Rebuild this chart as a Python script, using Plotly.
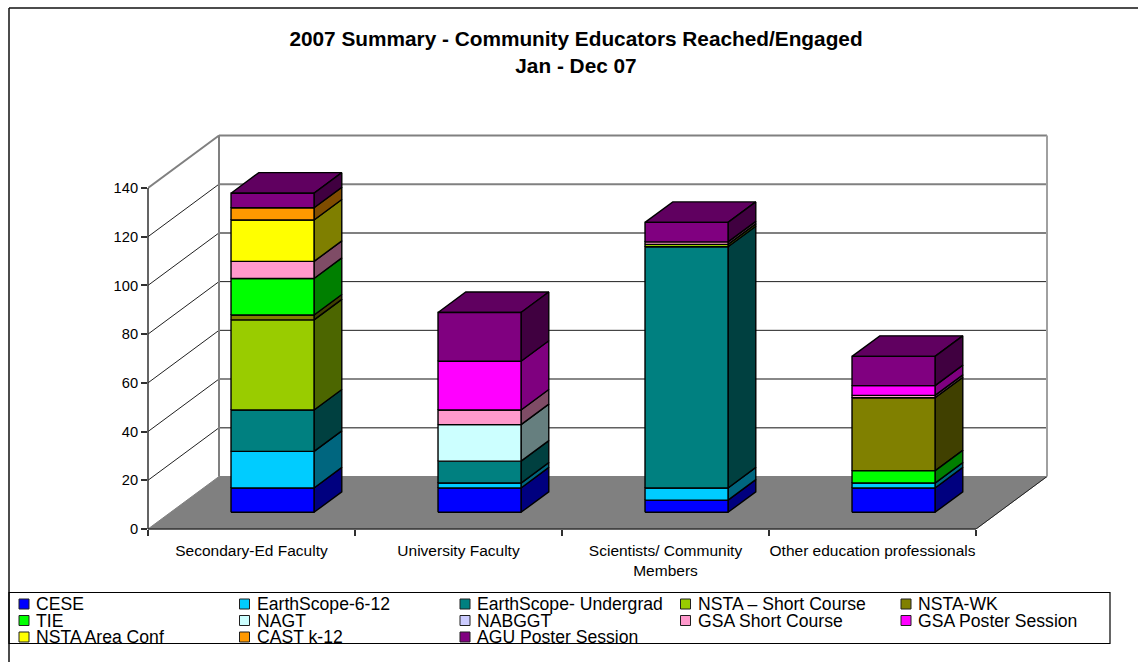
import plotly.graph_objects as go

# Chart data -------------------------------------------------------------
categories = ["Secondary-Ed Faculty", "University Faculty",
              "Scientists/ Community<br>Members", "Other education professionals"]
series_names = ["CESE", "EarthScope-6-12", "EarthScope- Undergrad", "NSTA – Short Course", "NSTA-WK",
                "TIE", "NAGT", "NABGGT", "GSA Short Course", "GSA Poster Session",
                "NSTA Area Conf", "CAST k-12", "AGU Poster Session"]
cese = [10, 10, 5, 10]
earthscope_612 = [15, 2, 5, 2]
earthscope_undergrad = [17, 9, 99, 0]
nsta_short_course = [37, 0, 1, 0]
nsta_wk = [2, 0, 0, 30]
tie = [15, 0, 0, 5]
nagt = [0, 15, 0, 0]
nabggt = [0, 0, 0, 0]
gsa_short_course = [7, 6, 1, 1]
gsa_poster = [0, 20, 0, 4]
nsta_area_conf = [17, 0, 0, 0]
cast_k12 = [5, 0, 0, 0]
agu_poster = [6, 20, 8, 12]
series_values = [cese, earthscope_612, earthscope_undergrad, nsta_short_course, nsta_wk, tie, nagt,
                 nabggt, gsa_short_course, gsa_poster, nsta_area_conf, cast_k12, agu_poster]
series_colors = ["#0000FF", "#00CCFF", "#008080", "#99CC00", "#808000", "#00FF00", "#CCFFFF",
                 "#CCCCFF", "#FF99CC", "#FF00FF", "#FFFF00", "#FF9900", "#800080"]
y_ticks = [0, 20, 40, 60, 80, 100, 120, 140]
grid_colors = ["#808080", "#606060", "#606060", "#202020", "#202020", "#808080", "#808080", "#808080"]
grid_widths = [2, 1.4, 1.4, 1, 1, 2, 2, 2]

# Stacking sequence per category; the last category stacks TIE below NSTA-WK
default_order = list(range(len(series_names)))
last_order = [0, 1, 2, 3, 5, 4, 6, 7, 8, 9, 10, 11, 12]
stack_orders = [default_order, default_order, default_order, last_order]

# Oblique projection, in axis units: the full depth of the floor
DEPTH_X = 71 / 207
DEPTH_Y = 52.5 / 2.436
BAR_INSET = 0.292
BAR_WIDTH = 0.401
BAR_NEAR = 0.318
BAR_FAR = 0.709

W, H = 1138, 662
L, R, T, B = 148, 1060, 125, 529
UNIT_X = 207
UNIT_Y = 2.436
X_MAX = (R - L) / UNIT_X
Y_MAX = (B - T) / UNIT_Y


def px(x):
    return (x - L) / (R - L)


def py(y):
    return (B - y) / (B - T)


def shade(hex_color, factor):
    r, g, b = (int(hex_color[i:i + 2], 16) for i in (1, 3, 5))
    return f"rgb({int(r * factor)},{int(g * factor)},{int(b * factor)})"


def project(x, value, depth):
    return x + depth * DEPTH_X, value + depth * DEPTH_Y


def polygon(points):
    xs, ys = zip(*[project(*p) for p in points])
    return list(xs) + [xs[0], None], list(ys) + [ys[0], None]


def add_poly(fig, xs, ys, fill, line="#000000", width=1.4):
    fig.add_trace(go.Scatter(x=xs, y=ys, mode="lines", fill="toself", fillcolor=fill,
                             line=dict(color=line, width=width), hoverinfo="skip",
                             showlegend=False))


def add_line(fig, xs, ys, color, width):
    fig.add_trace(go.Scatter(x=xs, y=ys, mode="lines", line=dict(color=color, width=width),
                             hoverinfo="skip", showlegend=False))


fig = go.Figure()
n = len(categories)
top = y_ticks[-1]

# Floor of the box
fx, fy = polygon([(0, 0, 0), (n, 0, 0), (n, 0, 1), (0, 0, 1)])
add_poly(fig, fx, fy, "#808080", "#808080", 1)
a, b = project(n, 0, 0), project(n, 0, 1)
add_line(fig, [a[0], b[0]], [a[1], b[1]], "#202020", 1)

# Gridlines across the side wall and the back wall
for tick, color, width in zip(y_ticks, grid_colors, grid_widths):
    if tick == 0:
        continue
    p0, p1, p2 = project(0, tick, 0), project(0, tick, 1), project(n, tick, 1)
    side_color = "#808080" if tick == top else "#202020"
    add_line(fig, [p0[0], p1[0]], [p0[1], p1[1]], side_color, width if tick == top else 1)
    add_line(fig, [p1[0], p2[0]], [p1[1], p2[1]], color, width)

# Wall edges
for x_edge, color in ((0, "#808080"), (n, "#A0A0A0")):
    a, b = project(x_edge, 0, 1), project(x_edge, top, 1)
    add_line(fig, [a[0], b[0]], [a[1], b[1]], color, 2)

# Stacked boxes: one trace per series and face
faces = {k: {"front": ([], []), "side": ([], []), "top": ([], [])} for k in range(len(series_names))}
for i, order in enumerate(stack_orders):
    base = 0
    present = [k for k in order if series_values[k][i] > 0]
    for k in present:
        v = series_values[k][i]
        x0, x1 = i + BAR_INSET, i + BAR_INSET + BAR_WIDTH
        y0, y1 = base, base + v
        polys = {
            "front": [(x0, y0, BAR_NEAR), (x1, y0, BAR_NEAR), (x1, y1, BAR_NEAR), (x0, y1, BAR_NEAR)],
            "side": [(x1, y0, BAR_NEAR), (x1, y0, BAR_FAR), (x1, y1, BAR_FAR), (x1, y1, BAR_NEAR)],
        }
        if k == present[-1]:
            polys["top"] = [(x0, y1, BAR_NEAR), (x1, y1, BAR_NEAR), (x1, y1, BAR_FAR), (x0, y1, BAR_FAR)]
        for face, pts in polys.items():
            xs, ys = polygon(pts)
            faces[k][face][0].extend(xs)
            faces[k][face][1].extend(ys)
        base = y1

for k, color in enumerate(series_colors):
    for face, factor in (("top", 0.75), ("side", 0.5), ("front", 1)):
        xs, ys = faces[k][face]
        if xs:
            add_poly(fig, xs, ys, shade(color, factor) if factor < 1 else color)

FONT = "Liberation Sans, Arial, sans-serif"
AXIS_COLOR = "#303030"

shapes = [
    # Outer frame and legend box
    dict(type="line", xref="paper", yref="paper", x0=px(9), x1=px(9), y0=py(8), y1=py(H),
         line=dict(color="#101010", width=1.5)),
    dict(type="line", xref="paper", yref="paper", x0=px(9), x1=px(W), y0=py(8), y1=py(8),
         line=dict(color="#101010", width=1.5)),
    dict(type="rect", xref="paper", yref="paper", x0=px(9), x1=px(1110), y0=py(592.5), y1=py(643.5),
         line=dict(color="#000000", width=1.2)),
    # Axis lines stop at the front plane of the box
    dict(type="line", xref="paper", yref="paper", x0=0, x1=n / X_MAX, y0=0, y1=0,
         line=dict(color=AXIS_COLOR, width=1.5)),
    dict(type="line", xref="paper", yref="paper", x0=0, x1=0, y0=0, y1=top / Y_MAX,
         line=dict(color=AXIS_COLOR, width=1.5)),
]
annotations = []

# Legend entries, filled row by row
for k, (name, color) in enumerate(zip(series_names, series_colors)):
    col, row = k % 5, k // 5
    sx = 19 + col * 220.5
    sy = 604 + row * 16.5
    shapes.append(dict(type="rect", xref="paper", yref="paper", x0=px(sx), x1=px(sx + 10),
                       y0=py(sy - 5), y1=py(sy + 5), fillcolor=color,
                       line=dict(color="#202020", width=1)))
    annotations.append(dict(xref="paper", yref="paper", x=px(sx + 15), y=py(sy), text=name, showarrow=False,
                            xanchor="left", yanchor="middle",
                            font=dict(family=FONT, size=17.6, color="#000000")))

fig.update_layout(
    width=W, height=H,
    margin=dict(l=L, r=W - R, t=T, b=H - B, autoexpand=False),
    paper_bgcolor="#FFFFFF", plot_bgcolor="rgba(0,0,0,0)",
    showlegend=False,
    font=dict(family=FONT, size=14.67, color="#000000"),
    title=dict(text="<b>2007 Summary - Community Educators Reached/Engaged<br>Jan - Dec 07</b>",
               xref="paper", x=px(576), xanchor="center", yref="container", y=1 - 46 / H, yanchor="middle",
               font=dict(family=FONT, size=20.8, color="#000000")),
    xaxis=dict(range=[0, X_MAX], showgrid=False, zeroline=False, showline=False,
               tickmode="array", tickvals=[i + 0.5 for i in range(n)], ticktext=categories,
               ticks="outside", ticklen=7, tickcolor="rgba(0,0,0,0)", tickangle=0,
               tickfont=dict(family=FONT, size=15.5),
               minor=dict(tickmode="array", tickvals=list(range(n + 1)), ticks="outside", ticklen=6,
                          tickcolor=AXIS_COLOR, tickwidth=1.5, showgrid=False)),
    yaxis=dict(range=[0, Y_MAX], showgrid=False, zeroline=False, showline=False,
               tickmode="array", tickvals=y_ticks, ticks="outside", ticklen=6, tickcolor=AXIS_COLOR, tickwidth=1.5),
    shapes=shapes, annotations=annotations,
)

fig.write_html("out.html")
